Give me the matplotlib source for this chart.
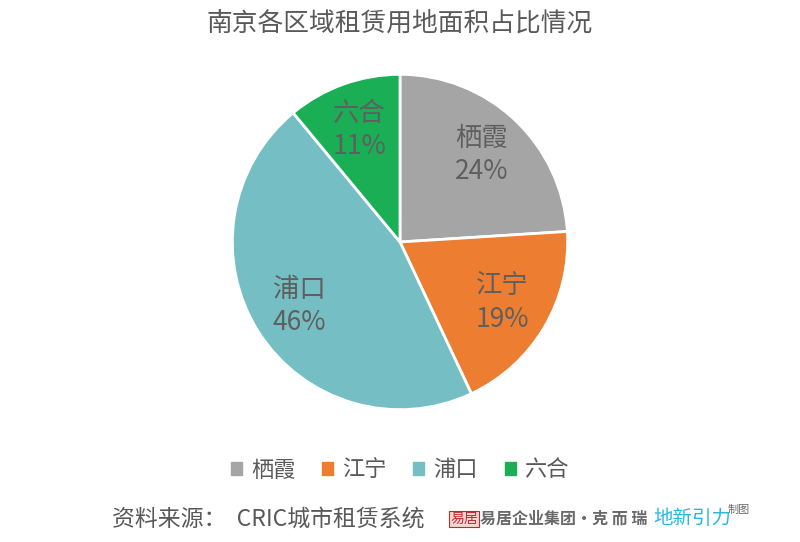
import matplotlib
matplotlib.use("Agg")
import matplotlib.pyplot as plt
import numpy as np

plt.rcParams['font.family'] = ['Noto Sans CJK SC', 'DejaVu Sans']

districts = ['栖霞', '江宁', '浦口', '六合']
shares = [24, 19, 46, 11]
colors = ['#a5a5a5', '#ed7d31', '#75bfc4', '#1aaf54']
title = '南京各区域租赁用地面积占比情况'
source = '资料来源：  CRIC城市租赁系统'

fig = plt.figure(figsize=(8, 5.42), dpi=100)
W, H = 800, 542
cx, cy, r = 400, 242, 171
ax = fig.add_axes([(cx - r) / W, (H - cy - r) / H, 2 * r / W, 2 * r / H])

wedges, _ = ax.pie(shares, colors=colors, startangle=90, counterclock=False,
                   wedgeprops=dict(edgecolor='white', linewidth=2))
ax.set_xlim(-1.02, 1.02)
ax.set_ylim(-1.02, 1.02)
ax.set_aspect('equal')

for w, name, val in zip(wedges, districts, shares):
    ang = np.deg2rad((w.theta1 + w.theta2) / 2)
    x, y = 0.71 * np.cos(ang), 0.71 * np.sin(ang)
    ax.text(x, y, f'{name}\n{val}%', ha='center', va='center', fontsize=19,
            color='#5f5f5f', linespacing=1.3, fontweight='light')

fig.text(0.5, 1 - 25 / H, title, ha='center', va='center', fontsize=18.5,
         color='#595959', fontweight='light')

handles = [plt.Rectangle((0, 0), 1, 1, color=c) for c in colors]
fig.legend(handles, districts, loc='center', bbox_to_anchor=(0.5, 1 - 470 / H),
           ncol=4, frameon=False, fontsize=16, handlelength=0.5, handleheight=0.5,
           handletextpad=0.4, columnspacing=1.2, labelcolor='#595959')

fig.text(112 / W, 1 - 519 / H, source, ha='left', va='center', fontsize=16.5,
         color='#595959', fontweight='light')

# logos
fig.text(464 / W, 1 - 519 / H, '易居', ha='center', va='center', fontsize=10, color='#c0282e',
         bbox=dict(boxstyle='square,pad=0.1', facecolor='#f4d5d5', edgecolor='#c0282e', linewidth=0.8))
fig.text(480 / W, 1 - 519 / H, '易居企业集团·克 而 瑞', ha='left', va='center', fontsize=11.5,
         color='#6a6a6a', fontweight='bold')
fig.text(653 / W, 1 - 519 / H, '地新引力', ha='left', va='center', fontsize=14, color='#27b8e0')
fig.text(728 / W, 1 - 510 / H, '制图', ha='left', va='center', fontsize=8, color='#6a6a6a')

fig.savefig('out.png', dpi=100, facecolor='white')
